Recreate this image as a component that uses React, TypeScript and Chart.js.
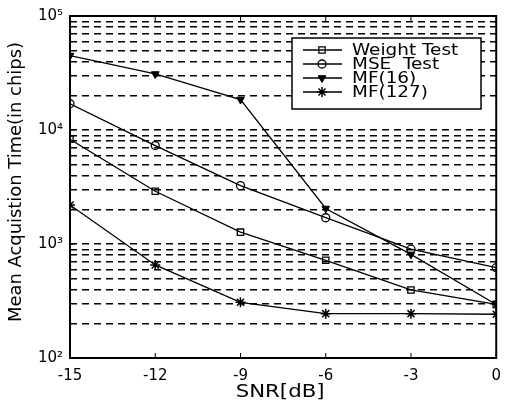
import React, { useEffect, useRef } from 'react';
import { Chart, registerables } from 'chart.js';
import { drawPoint } from 'chart.js/helpers';
Chart.register(...registerables);

const snr = [-15, -12, -9, -6, -3, 0];
const weightTest = [8300, 2900, 1270, 720, 395, 295];
const mseTest = [17000, 7300, 3250, 1700, 900, 620];
const mf16 = [45000, 31000, 18500, 2050, 810, 295];
const mf127 = [2200, 655, 308, 245, 245, 242];
const seriesLabels = ['Weight Test', 'MSE  Test', 'MF(16)', 'MF(127)'];
const xTicks = [-15, -12, -9, -6, -3, 0];
const yMajorTicks = [100, 1000, 10000, 100000];
const yTickLabels = ['10²', '10³', '10⁴', '10⁵'];
const xTitle = 'SNR[dB]';
const yTitle = 'Mean Acquistion Time(in chips)';

const FONT = 'DejaVu Sans';

const toPoints = (ys: number[]) => ys.map((y, i) => ({ x: snr[i], y }));

const decorPlugin = {
  id: 'decor',
  afterDraw(chart: any) {
    const { ctx, chartArea: a } = chart;
    const xs = chart.scales.x;
    const ys = chart.scales.y;
    ctx.save();
    ctx.setLineDash([]);
    ctx.strokeStyle = '#000';
    ctx.fillStyle = '#000';
    // tick marks
    ctx.lineWidth = 1;
    const seg = (x1: number, y1: number, x2: number, y2: number) => {
      ctx.beginPath();
      ctx.moveTo(x1, y1);
      ctx.lineTo(x2, y2);
      ctx.stroke();
    };
    for (const t of xTicks) {
      const px = xs.getPixelForValue(t);
      seg(px, a.bottom, px, a.bottom - 5);
      seg(px, a.top, px, a.top + 5);
    }
    for (const t of yMajorTicks) {
      const py = ys.getPixelForValue(t);
      seg(a.left, py, a.left + 5, py);
      seg(a.right, py, a.right - 5, py);
    }
    // frame
    ctx.lineWidth = 2;
    ctx.strokeRect(a.left, a.top, a.right - a.left, a.bottom - a.top);

    // legend
    const lx = 292, ly = 38, lw = 189, lh = 71;
    ctx.fillStyle = '#fff';
    ctx.fillRect(lx, ly, lw, lh);
    ctx.lineWidth = 1.5;
    ctx.strokeStyle = '#000';
    ctx.strokeRect(lx, ly, lw, lh);
    const rows = [50, 64, 78, 92];
    chart.data.datasets.forEach((ds: any, i: number) => {
      const ry = rows[i];
      ctx.strokeStyle = '#000';
      ctx.lineWidth = 1.3;
      seg(303, ry, 342, ry);
      ctx.fillStyle = ds.pointBackgroundColor;
      ctx.strokeStyle = '#000';
      ctx.lineWidth = ds.pointBorderWidth;
      drawPoint(ctx, { pointStyle: ds.pointStyle, radius: ds.pointRadius, rotation: ds.pointRotation || 0, borderWidth: ds.pointBorderWidth }, 322, ry);
      ctx.save();
      ctx.fillStyle = '#000';
      ctx.font = `16px "${FONT}"`;
      ctx.textBaseline = 'middle';
      ctx.textAlign = 'left';
      ctx.translate(352, ry + 1);
      ctx.scale(1.15, 1);
      ctx.fillText(ds.label, 0, 0);
      ctx.restore();
    });

    // axis titles
    ctx.fillStyle = '#000';
    ctx.save();
    ctx.font = `17px "${FONT}"`;
    ctx.textAlign = 'center';
    ctx.textBaseline = 'middle';
    ctx.translate((a.left + a.right) / 2 - 3, 393);
    ctx.scale(1.25, 1);
    ctx.fillText(xTitle, 0, 0);
    ctx.restore();

    ctx.save();
    ctx.font = `17px "DejaVu Sans Condensed", "${FONT}"`;
    ctx.textAlign = 'center';
    ctx.textBaseline = 'middle';
    const w = ctx.measureText(yTitle).width;
    ctx.translate(17, 182);
    ctx.rotate(-Math.PI / 2);
    ctx.scale(280 / w, 1);
    ctx.fillText(yTitle, 0, 0);
    ctx.restore();

    ctx.restore();
  },
};

export default function App() {
  const ref = useRef<HTMLCanvasElement>(null);
  useEffect(() => {
    document.body.style.margin = '0';
    const common = {
      borderColor: '#000',
      borderWidth: 1.3,
      pointBorderColor: '#000',
      showLine: true,
      tension: 0,
    };
    const chart = new Chart(ref.current!, {
      type: 'line',
      data: {
        datasets: [
          { ...common, label: seriesLabels[0], data: toPoints(weightTest), pointStyle: 'rect', pointRadius: 4.5, pointBorderWidth: 1.3, pointBackgroundColor: 'rgba(0,0,0,0)' },
          { ...common, label: seriesLabels[1], data: toPoints(mseTest), pointStyle: 'circle', pointRadius: 4, pointBorderWidth: 1.3, pointBackgroundColor: 'rgba(0,0,0,0)' },
          { ...common, label: seriesLabels[2], data: toPoints(mf16), pointStyle: 'triangle', pointRotation: 180, pointRadius: 4.5, pointBorderWidth: 1, pointBackgroundColor: '#000' },
          { ...common, label: seriesLabels[3], data: toPoints(mf127), pointStyle: 'star', pointRadius: 5, pointBorderWidth: 1.5, pointBackgroundColor: '#000' },
        ] as any,
      },
      options: {
        responsive: false,
        animation: false,
        devicePixelRatio: 1,
        layout: { padding: { top: 14, right: 5, left: 0, bottom: 0 } },
        plugins: { legend: { display: false }, tooltip: { enabled: false } },
        scales: {
          x: {
            type: 'linear',
            min: -15,
            max: 0,
            afterBuildTicks: (s: any) => {
              s.ticks = xTicks.map((v) => ({ value: v }));
            },
            grid: { display: false, drawTicks: false },
            border: { display: false },
            ticks: { color: '#000', font: { family: FONT, size: 15 }, padding: 9, maxRotation: 0, autoSkip: false },
            afterFit: (s: any) => {
              s.height = 45;
            },
          },
          y: {
            type: 'logarithmic',
            min: 100,
            max: 100000,
            afterBuildTicks: (s: any) => {
              const t: any[] = [];
              for (let k = 0; k < yMajorTicks.length - 1; k++) {
                for (let m = 1; m <= 9; m++) t.push({ value: m * yMajorTicks[k] });
              }
              t.push({ value: yMajorTicks[yMajorTicks.length - 1] });
              s.ticks = t;
            },
            grid: { color: '#000', lineWidth: 1.4, drawTicks: false },
            border: { display: false, dash: [7, 5] },
            ticks: {
              color: '#000',
              font: { family: FONT, size: 15 },
              padding: 7,
              autoSkip: false,
              callback: (v: any) => {
                const i = yMajorTicks.indexOf(Number(v));
                return i >= 0 ? yTickLabels[i] : '';
              },
            },
            afterFit: (s: any) => {
              s.width = 70;
            },
          },
        },
      } as any,
      plugins: [decorPlugin],
    });
    return () => chart.destroy();
  }, []);
  return (
    <div style={{ position: 'fixed', left: 0, top: 0, width: 510, height: 403, background: '#fff' }}>
      <canvas ref={ref} width={510} height={403} />
    </div>
  );
}
